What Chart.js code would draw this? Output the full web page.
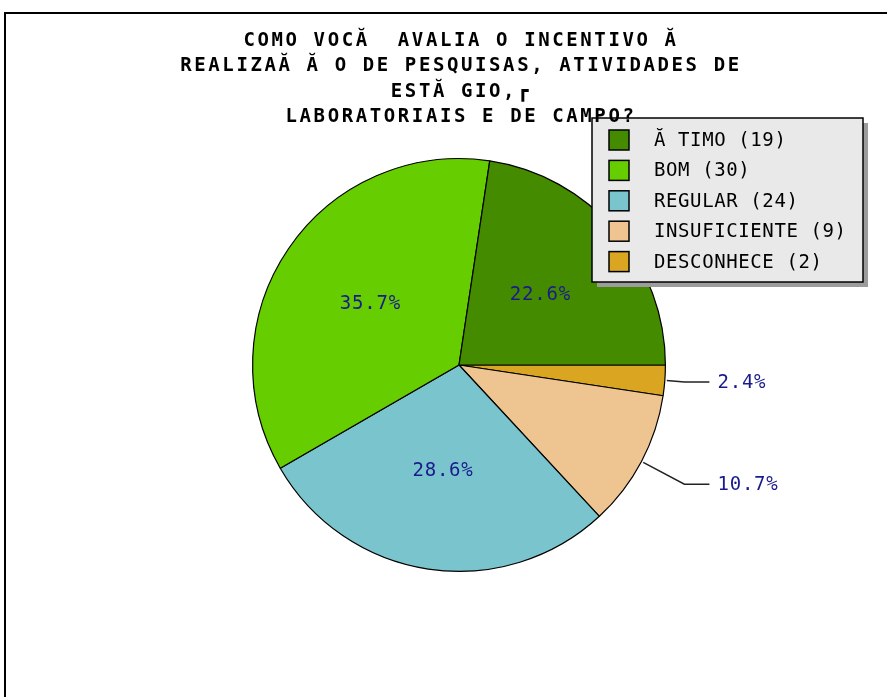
<!DOCTYPE html>
<html>
<head>
<meta charset="utf-8">
<script src="https://cdn.jsdelivr.net/npm/chart.js@4"></script>
<style>
  html, body { margin: 0; padding: 0; background: #fff; }
  canvas { display: block; }
</style>
</head>
<body>
<canvas id="pie" width="887" height="697"></canvas>
<script>
// ── data ───────────────────────────────────────────────────────────
const titleLines = [
    'COMO VOCĂ  AVALIA O INCENTIVO Ă',
    'REALIZAĂ Ă O DE PESQUISAS, ATIVIDADES DE',
    'ESTĂ GIO,┏',
    'LABORATORIAIS E DE CAMPO?'
];
const categories = ['Ă TIMO', 'BOM', 'REGULAR', 'INSUFICIENTE', 'DESCONHECE'];
const counts = [19, 30, 24, 9, 2];
const sliceColors = ['#458B00', '#66CD00', '#7AC5CD', '#EEC591', '#DAA520'];

const total = counts.reduce((a, b) => a + b, 0);
const monoFont = '"DejaVu Sans Mono", "Liberation Mono", monospace';

// Slices run counter-clockwise from 3 o'clock in the reference, so
// feed Chart.js the reversed order and start at 90deg (clockwise).
const revIdx = counts.map((_, i) => counts.length - 1 - i);

// ── frame, title, legend and percentage labels ─────────────────────
const decorPlugin = {
    id: 'decor',
    beforeDraw(chart) {
        const ctx = chart.ctx;
        ctx.save();
        ctx.strokeStyle = '#000';
        ctx.lineWidth = 2;
        ctx.beginPath();
        ctx.moveTo(5, 700);
        ctx.lineTo(5, 13);
        ctx.lineTo(890, 13);
        ctx.stroke();
        ctx.restore();
    },
    afterDraw(chart) {
        const ctx = chart.ctx;
        const meta = chart.getDatasetMeta(0);

        // percentage labels
        ctx.save();
        ctx.font = '19px ' + monoFont;
        ctx.letterSpacing = '0.8px';
        ctx.fillStyle = '#1a1a8c';
        ctx.textBaseline = 'middle';
        meta.data.forEach((arc, j) => {
            const i = revIdx[j];
            const p = arc.getProps(['x', 'y', 'startAngle', 'endAngle', 'outerRadius'], true);
            const mid = (p.startAngle + p.endAngle) / 2;
            const pct = counts[i] / total * 100;
            const txt = pct.toFixed(1) + '%';
            if (pct >= 15) {
                const rr = p.outerRadius * 0.52;
                ctx.textAlign = 'center';
                ctx.fillText(txt, p.x + Math.cos(mid) * rr, p.y + Math.sin(mid) * rr);
            } else {
                const r = p.outerRadius;
                const sx = p.x + Math.cos(mid) * (r + 2);
                const sy = p.y + Math.sin(mid) * (r + 2);
                const ex = p.x + r + 19;
                const ey = p.y + Math.tan(mid) * (r + 19);
                const hx = p.x + r + 44;
                ctx.strokeStyle = '#222';
                ctx.lineWidth = 1.5;
                ctx.beginPath();
                ctx.moveTo(sx, sy);
                ctx.lineTo(ex, ey);
                ctx.lineTo(hx, ey);
                ctx.stroke();
                ctx.textAlign = 'left';
                ctx.fillText(txt, hx + 8, ey + 1);
            }
        });
        ctx.restore();

        // legend box with drop shadow
        const lx = 592, ly = 118, lw = 271, lh = 164;
        ctx.save();
        ctx.fillStyle = '#9c9c9c';
        ctx.fillRect(lx + 5, ly + 5, lw, lh);
        ctx.fillStyle = '#e9e9e9';
        ctx.fillRect(lx, ly, lw, lh);
        ctx.strokeStyle = '#000';
        ctx.lineWidth = 1.5;
        ctx.strokeRect(lx, ly, lw, lh);
        ctx.font = '19px ' + monoFont;
        ctx.letterSpacing = '0.6px';
        ctx.textBaseline = 'middle';
        ctx.textAlign = 'left';
        categories.forEach((name, i) => {
            const cy = 140 + i * 30.4;
            ctx.fillStyle = sliceColors[i];
            ctx.fillRect(609, cy - 10, 20, 20);
            ctx.strokeStyle = '#000';
            ctx.lineWidth = 1.5;
            ctx.strokeRect(609, cy - 10, 20, 20);
            ctx.fillStyle = '#000';
            ctx.fillText(name + ' (' + counts[i] + ')', 654, cy + 1);
        });
        ctx.restore();

        // title
        ctx.save();
        ctx.font = 'bold 19px ' + monoFont;
        ctx.letterSpacing = '2.6px';
        ctx.fillStyle = '#000';
        ctx.textAlign = 'center';
        ctx.textBaseline = 'middle';
        titleLines.forEach((line, i) => {
            ctx.fillText(line, 461, 41 + i * 25.5);
        });
        ctx.restore();
    }
};

new Chart(document.getElementById('pie'), {
    type: 'pie',
    data: {
        labels: revIdx.map(i => categories[i]),
        datasets: [{
            data: revIdx.map(i => counts[i]),
            backgroundColor: revIdx.map(i => sliceColors[i]),
            borderColor: '#000',
            borderWidth: 1.2
        }]
    },
    options: {
        responsive: false,
        animation: false,
        devicePixelRatio: 1,
        rotation: 90,
        layout: { padding: { left: 252, right: 221, top: 158, bottom: 125 } },
        plugins: {
            legend: { display: false },
            title: { display: false },
            tooltip: { enabled: false }
        }
    },
    plugins: [decorPlugin]
});
</script>
</body>
</html>
